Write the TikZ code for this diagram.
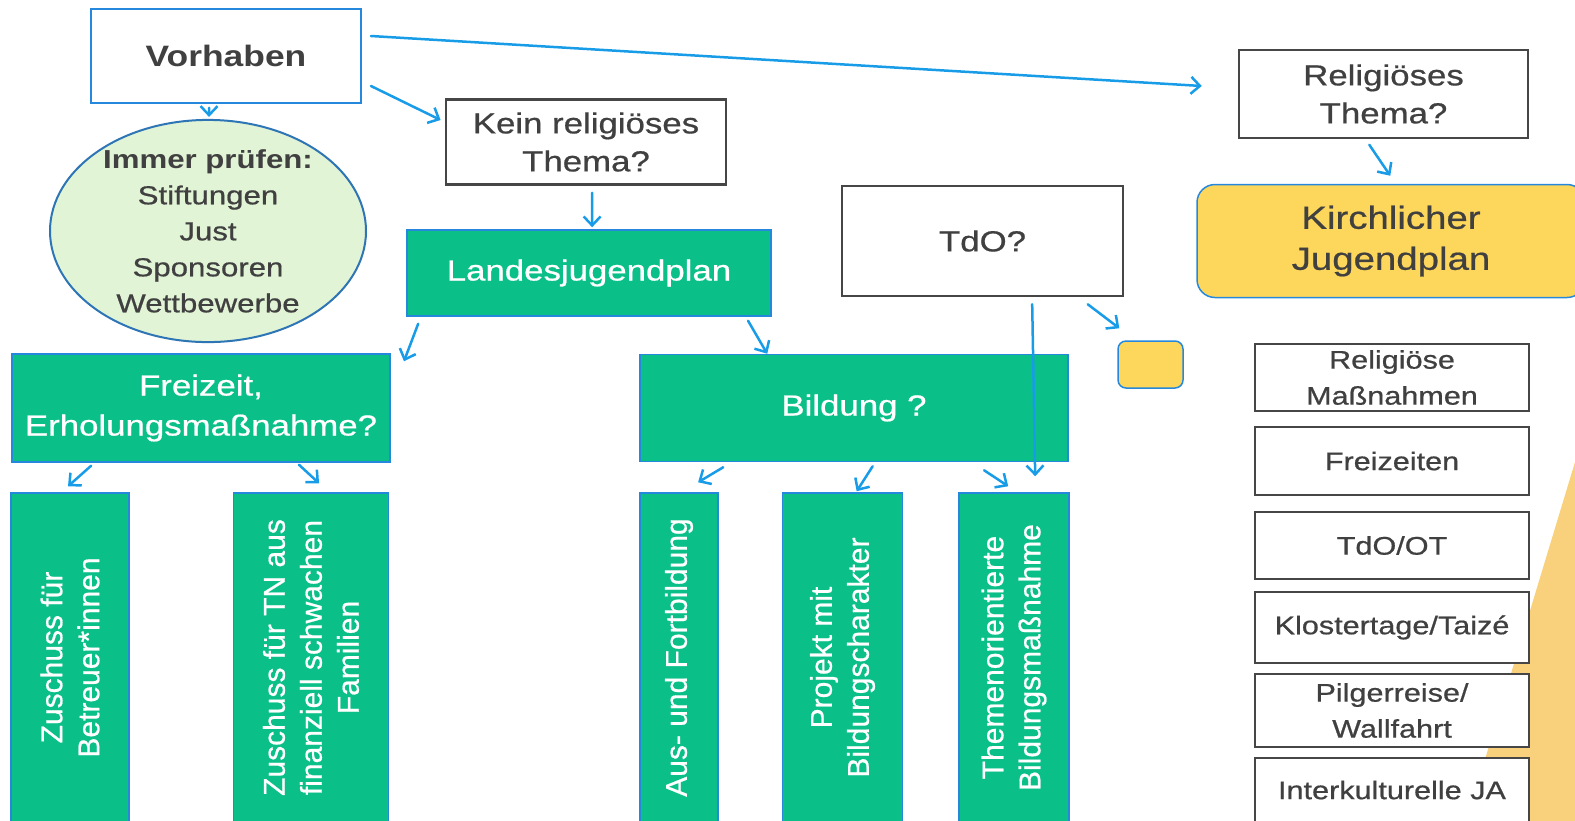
\documentclass[tikz,border=0pt]{standalone}
\usepackage{fontspec}
\setmainfont{Liberation Sans}[UprightFeatures={FakeBold=0.6}]
\usetikzlibrary{arrows.meta,shapes.geometric}

\definecolor{txtgrey}{RGB}{64,64,64}
\definecolor{frameline}{RGB}{70,70,70}
\definecolor{boxgreen}{RGB}{11,191,136}
\definecolor{boxblue}{RGB}{38,136,220}
\definecolor{arrowblue}{RGB}{24,156,232}
\definecolor{ellfill}{RGB}{226,244,214}
\definecolor{ellline}{RGB}{46,117,182}
\definecolor{jpyellow}{RGB}{253,214,92}
\definecolor{triorange}{RGB}{249,209,125}

\newcommand{\fnt}[2]{\fontsize{#1}{#2}\selectfont}

\tikzset{
	wh/.style 2 args={minimum width=#1pt/1.2, minimum height=#2pt},
	nbox/.style={inner sep=0pt, align=center},
	qbox/.style={nbox, draw=frameline, line width=2.5pt, fill=white, text=txtgrey, font=\fnt{29}{38}},
	gbox/.style={nbox, draw=boxblue, line width=1.5pt, fill=boxgreen, text=white, font=\fnt{29}{40}},
	tallbox/.style={gbox, xscale=0.83333, rotate=90, minimum width=329pt, minimum height=#1pt, font=\fnt{30}{37}},
	ybox/.style={nbox, draw=boxblue, line width=1.5pt, fill=jpyellow, text=txtgrey, rounded corners=#1},
	listbox/.style={qbox, font=\fnt{25.5}{36}},
	arr/.style={draw=arrowblue, line width=2.5pt, line cap=round, -{Straight Barb[length=9pt,width=17pt]}},
}

\begin{document}
\begin{tikzpicture}[x=0.83333pt, y=-1pt, xscale=1.2, every node/.append style={transform shape}]
	\useasboundingbox (0,0) rectangle (1575,820);
	\clip (0,0) rectangle (1575,820);

	\fill[triorange] (1575,462) -- (1466,822) -- (1576,822) -- cycle;

	% top row
	\node[nbox, draw=boxblue, line width=1.5pt, fill=white, text=txtgrey, font=\bfseries\fnt{29.5}{36}, wh={270}{94}] (vor) at (226,56) {Vorhaben};
	\node[ellipse, draw=ellline, line width=2pt, fill=ellfill, inner sep=0pt, inner ysep=-3pt, minimum width=316pt/1.2, minimum height=222pt, text=txtgrey, align=center, font=\fnt{26}{36}] (ell) at (208,231) {\textbf{Immer prüfen:}\\Stiftungen\\Just\\Sponsoren\\Wettbewerbe};
	\node[qbox, wh={280}{85}] (kein) at (586,142) {Kein religiöses\\Thema?};
	\node[gbox, wh={364}{86}] (land) at (589,273) {Landesjugendplan};
	\node[qbox, wh={281}{110}] (tdo) at (982.5,241) {TdO?};
	\node[qbox, wh={289}{88}] (relt) at (1383.5,94) {Religiöses\\Thema?};
	\node[ybox=18pt, wh={388}{113}, font=\fnt{32}{41}] (kirch) at (1391,241) {Kirchlicher\\Jugendplan};
	\node[ybox=8pt, wh={65}{47}] (small) at (1150.5,364.5) {};

	% second row
	\node[gbox, wh={378}{108}] (frei) at (201,408) {Freizeit,\\Erholungsmaßnahme?};
	\node[gbox, wh={428}{107}] (bild) at (854,408) {Bildung ?};

	% tall boxes (rotated: .east is the top)
	\node[tallbox=118] (zus1) at (70,657.5) {Zuschuss für\\Betreuer*innen};
	\node[tallbox=155] (zus2) at (311,657.5) {Zuschuss für TN aus\\finanziell schwachen\\Familien};
	\node[tallbox=78] (aus) at (679,657.5) {Aus- und Fortbildung};
	\node[tallbox=120] (proj) at (842.5,657.5) {Projekt mit\\Bildungscharakter};
	\node[tallbox=110] (them) at (1014,657.5) {Themenorientierte\\Bildungsmaßnahme};

	% right column
	\foreach \n/\y/\h/\t in {relm/377.5/67/{Religiöse\\Maßnahmen}, frz/461/68/Freizeiten, tdoot/545.5/67/{TdO/OT}, klos/627.5/71/{Klostertage/Taizé}, pilg/710.5/73/{Pilgerreise/\\Wallfahrt}, intk/790/64/{Interkulturelle JA}}{
		\node[listbox, wh={274}{\h}] (\n) at (1392,\y) {\t};
	}

	% arrows
	\draw[arr] ([shift={(9,-20)}]vor.east) -- ([shift={(-36,-8)}]relt.west);
	\draw[arr] ([shift={(9,30)}]vor.east) -- ([shift={(-4,-22)}]kein.west);
	\draw[arr] ([shift={(-17,4)}]vor.south) -- ([shift={(1,-2)}]ell.north);
	\draw[arr] ([shift={(6,7)}]kein.south) -- ([shift={(3,-2)}]land.north);
	\draw[arr] ([shift={(12,7)}]land.south west) -- ([shift={(13,8)}]frei.north east);
	\draw[arr] ([shift={(-24,4)}]land.south east) -- ([shift={(128,0)}]bild.north west);
	\draw[arr] ([shift={(-14.5,5.5)}]relt.south) -- ([shift={(-1,-8)}]kirch.north);
	\draw[arr] ([shift={(-37,7)}]tdo.south east) -- ([shift={(2,-12)}]small.north west);
	\draw[arr] ([shift={(49.5,7)}]tdo.south) -- ([shift={(21,-16)}]them.east);
	\draw[arr] ([shift={(80,3)}]frei.south west) -- ([shift={(-2,-6)}]zus1.east);
	\draw[arr] ([shift={(-92,2)}]frei.south east) -- ([shift={(8,-9)}]zus2.east);
	\draw[arr] ([shift={(84,5)}]bild.south west) -- ([shift={(19,-10)}]aus.east);
	\draw[arr] ([shift={(18.5,4)}]bild.south) -- ([shift={(14,-1)}]proj.east);
	\draw[arr] ([shift={(-85,8)}]bild.south east) -- ([shift={(-6,-6)}]them.east);
\end{tikzpicture}
\end{document}
